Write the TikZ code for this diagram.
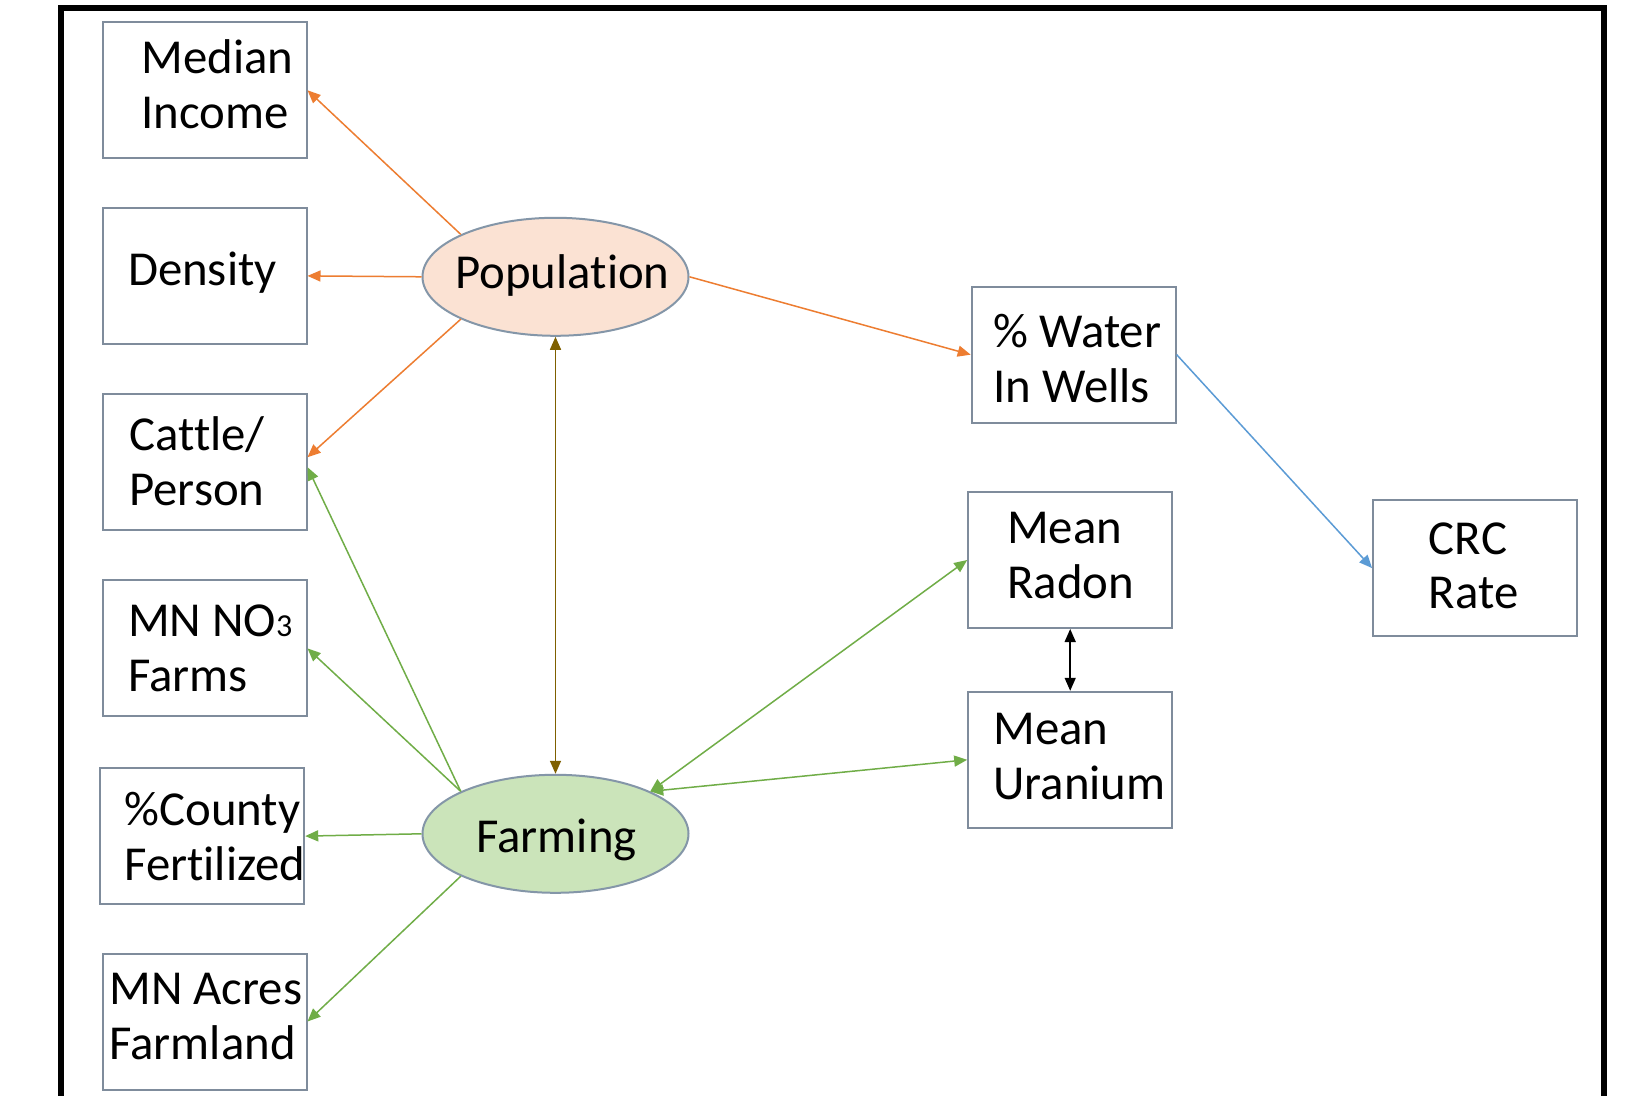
\documentclass[tikz,border=0pt]{standalone}
\usepackage{fontspec}
\setmainfont{Carlito}[Ligatures=NoCommon]
\usetikzlibrary{arrows.meta,shapes.geometric,calc}
\definecolor{orgc}{HTML}{ED7D31}
\definecolor{grnc}{HTML}{70AD47}
\definecolor{bluc}{HTML}{5B9BD5}
\definecolor{brnc}{HTML}{7F6000}
\definecolor{boxc}{HTML}{7F8C9C}
\definecolor{popf}{HTML}{FBE2D3}
\definecolor{farf}{HTML}{CBE4BA}
\definecolor{ellc}{HTML}{8496A8}
\tikzset{>={Triangle[length=6.5pt,width=5.5pt]}}
\begin{document}
\begin{tikzpicture}[x=0.5pt,y=-0.5pt,
 boxn/.style={draw=boxc,line width=1pt,minimum width=102pt,minimum height=68pt,inner sep=0pt},
 elln/.style={ellipse,draw=ellc,line width=1pt,minimum width=133pt,minimum height=59pt,inner sep=0pt},
 lbl/.style={anchor=base west,align=left,inner sep=0pt,font=\fontsize{24.4}{27.5}\selectfont},
 conn/.style={line width=0.75pt},
]
\useasboundingbox (0,0) rectangle (1634,1096);
\clip (0,0) rectangle (1634,1096);
\fill[white] (0,0) rectangle (1634,1096);
\draw[line width=2.75pt,line join=miter] (61,1130) -- (61,8) -- (1604,8) -- (1604,1130);

% boxes
\node[boxn] (med) at (204.5,90.3) {};
\node[boxn] (den) at (204.5,275.9) {};
\node[boxn] (cat) at (204.5,462.2) {};
\node[boxn] (no3) at (204.5,648.4) {};
\node[boxn] (fer) at (202.2,836.1) {};
\node[boxn] (acr) at (204.5,1021.5) {};
\node[boxn] (wat) at (1073.7,354.7) {};
\node[boxn] (rad) at (1070.2,560) {};
\node[boxn] (ura) at (1070.2,759.8) {};
\node[boxn] (crc) at (1475.1,568.1) {};
% ellipses
\node[elln,fill=popf] (pop) at (555.5,276.8) {};
\node[elln,fill=farf] (farm) at (555.5,833.8) {};

% texts (base = baseline of the last line)
\node[lbl] (tmed) at (141,128.6) {Median\\Income};
\node[lbl] (tden) at (127.6,285.7) {Density};
\node[lbl] (tcat) at (129,506) {Cattle/\\Person};
\node[lbl] (tno3) at (127.6,691.8) {MN NO{\fontsize{16}{16}\selectfont 3}\\Farms};
\node[lbl] (tfer) at (124,880) {\%County\\Fertilized};
\node[lbl] (tacr) at (109,1059.5) {MN Acres\\Farmland};
\node[lbl] (twat) at (993,402.4) {\% Water\\In Wells};
\node[lbl] (trad) at (1006.8,598.3) {Mean\\Radon};
\node[lbl] (tura) at (993,799.6) {Mean\\Uranium};
\node[lbl] (tcrc) at (1428.5,609) {CRC\\Rate};
\node[lbl] (tpop) at (455,289) {Population};
\node[lbl] (tfarm) at (476,852) {Farming};

% connectors
\draw[conn,orgc,->] (pop.north west) -- (med.east);
\draw[conn,orgc,->] (pop.west) -- (den.east);
\draw[conn,orgc,->] (pop.south west) -- ($(cat.east)+(0,-5)$);
\draw[conn,orgc,->] (pop.east) -- (wat.west);
\draw[conn,grnc,->] (farm.north west) -- ($(cat.east)+(0,5)$);
\draw[conn,grnc,->] (farm.north west) -- (no3.east);
\draw[conn,grnc,->] (farm.west) -- (fer.east);
\draw[conn,grnc,->] (farm.south west) -- (acr.east);
\draw[conn,grnc,<->] (farm.north east) -- (rad.west);
\draw[conn,grnc,<->] (farm.north east) -- (ura.west);
\draw[conn,bluc,->] (wat.east) -- (crc.west);
\draw[conn,brnc,<->] (pop.south) -- (farm.north);
\draw[conn,black,<->] (rad.south) -- (ura.north);
\end{tikzpicture}
\end{document}
